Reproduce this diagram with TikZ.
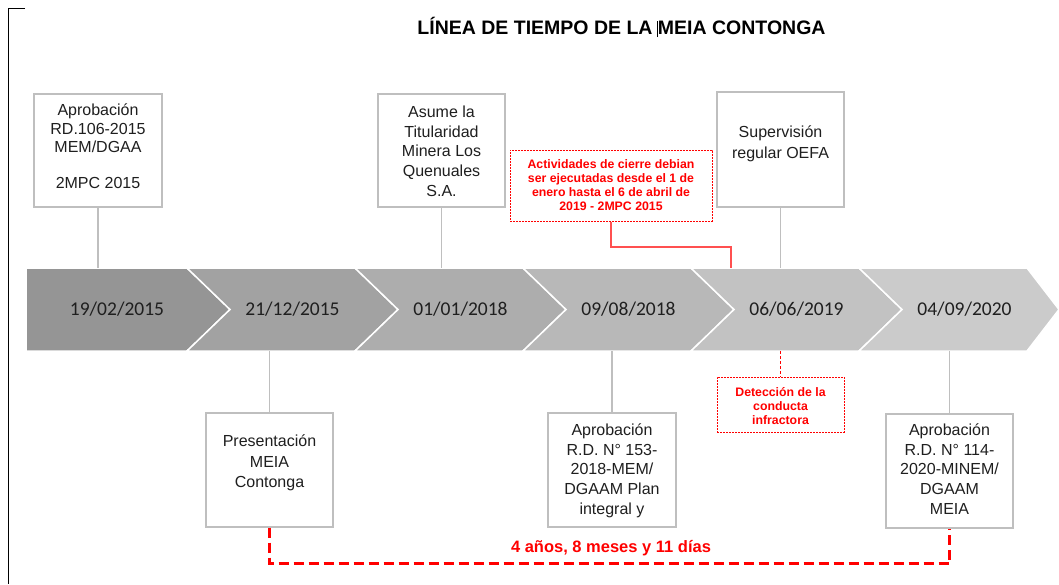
\documentclass[tikz,border=0pt]{standalone}
\usepackage{fontspec}
\setmainfont{Liberation Sans}
\newfontfamily\calfont{Carlito}
\definecolor{boxgray}{HTML}{BFBFBF}
\definecolor{txtdark}{HTML}{1F1F1F}
\definecolor{chA}{HTML}{959595}
\definecolor{chB}{HTML}{A2A2A2}
\definecolor{chC}{HTML}{ADADAD}
\definecolor{chD}{HTML}{B8B8B8}
\definecolor{chE}{HTML}{C2C2C2}
\definecolor{chF}{HTML}{CBCBCB}
\definecolor{redline}{HTML}{FF5050}
\newcommand{\wcursor}{\makebox[0pt][r]{\rule[-3pt]{0.8pt}{16pt}}}
\tikzset{
  chev/.style={draw=white, line width=1.5pt},
  datetxt/.style={font=\calfont\fontsize{19.5}{22}\selectfont, text=txtdark, anchor=base, inner sep=0pt},
  box/.style={draw=boxgray, line width=1.3pt, fill=white, inner sep=0pt},
  redbox/.style={draw=red, line width=1pt, dash pattern=on 2pt off 1pt, fill=white, inner sep=0pt},
  boxtxt/.style={font=\fontsize{16}{19.7}\selectfont, text=txtdark, align=center, inner sep=0pt},
  redtxt/.style={font=\bfseries\fontsize{12.3}{14}\selectfont, text=red, align=center, inner sep=0pt},
  conn/.style={draw=boxgray, line width=1.5pt},
  redconn/.style={draw=redline, line width=1.4pt},
  reddash/.style={draw=red, line width=1.2pt, dash pattern=on 3pt off 2pt},
  bracket/.style={draw=red, line width=2.6pt, dash pattern=on 10pt off 5pt}
}
\begin{document}
\begin{tikzpicture}[x=1pt,y=-1pt]
\useasboundingbox (0,0) rectangle (1059,584);
% frame corner
\draw[black, line width=1pt] (25,8) -- (8.5,8) -- (8.5,584);
% title
\node[font=\bfseries\fontsize{19.5}{23}\selectfont, text=black, inner sep=0pt, anchor=base] (title) at (621.5,34) {LÍNEA DE TIEMPO DE LA {\wcursor}MEIA CONTONGA};
% chevrons
\path[chev, fill=chA] (26,268) -- (187,268) -- (230,309.5) -- (187,351) -- (26,351) -- cycle;
\path[chev, fill=chB] (187,268) -- (355,268) -- (398,309.5) -- (355,351) -- (187,351) -- (230,309.5) -- cycle;
\path[chev, fill=chC] (355,268) -- (523,268) -- (566,309.5) -- (523,351) -- (355,351) -- (398,309.5) -- cycle;
\path[chev, fill=chD] (523,268) -- (691,268) -- (734,309.5) -- (691,351) -- (523,351) -- (566,309.5) -- cycle;
\path[chev, fill=chE] (691,268) -- (859,268) -- (902,309.5) -- (859,351) -- (691,351) -- (734,309.5) -- cycle;
\path[chev, fill=chF] (859,268) -- (1027,268) -- (1059,309.5) -- (1027,351) -- (859,351) -- (902,309.5) -- cycle;
% dates
\node[datetxt] (d1) at (117,315) {19/02/2015};
\node[datetxt] (d2) at (292.5,315) {21/12/2015};
\node[datetxt] (d3) at (460.5,315) {01/01/2018};
\node[datetxt] (d4) at (628.5,315) {09/08/2018};
\node[datetxt] (d5) at (796.5,315) {06/06/2019};
\node[datetxt] (d6) at (964.5,315) {04/09/2020};
% anchor points on the band
\coordinate (c1) at (98,268);
\coordinate (c2) at (441.5,268);
\coordinate (c5) at (780.5,268);
\coordinate (c5r) at (731,268);
\coordinate (c5b) at (780.5,351);
\coordinate (c2b) at (269.5,351);
\coordinate (c4b) at (612,351);
\coordinate (c6b) at (949.5,351);
\coordinate (rk) at (731,247);
% top boxes
\node[box, minimum width=128pt, minimum height=113pt] (b1) at (98,150.5) {};
\node[box, minimum width=127pt, minimum height=113pt] (b2) at (441.5,150.5) {};
\node[box, minimum width=127pt, minimum height=115pt] (b3) at (780.5,149.5) {};
\node[redbox, minimum width=202pt, minimum height=71pt] (ra) at (611,185.5) {};
% bottom boxes
\node[redbox, minimum width=127pt, minimum height=55pt] (rd) at (780.5,404.5) {};
\node[box, minimum width=127pt, minimum height=114pt] (p1) at (269.5,470) {};
\node[box, minimum width=128pt, minimum height=114pt] (p2) at (612,470) {};
\node[box, minimum width=127pt, minimum height=114pt] (p3) at (949.5,471) {};
% texts
\node[boxtxt, font=\fontsize{16}{18.3}\selectfont] (t1) at (98,146.5) {Aprobación\\RD.106-2015\\MEM/DGAA\\\mbox{}\\2MPC 2015};
\node[boxtxt] (t2) at (441.5,151) {Asume la\\Titularidad\\Minera Los\\Quenuales\\S.A.};
\node[boxtxt, font=\fontsize{16}{20.5}\selectfont] (t3) at (780.5,144) {Supervisión\\regular OEFA};
\node[redtxt] (ta) at (611,185) {Actividades de cierre debian\\ser ejecutadas desde el 1 de\\enero hasta el 6 de abril de\\2019 - 2MPC 2015};
\node[redtxt] (td) at (780.5,406) {Detección de la\\conducta\\infractora};
\node[boxtxt, font=\fontsize{16}{20.3}\selectfont] (tp1) at (269.5,463) {Presentación\\MEIA\\Contonga};
\node[boxtxt] (tp2) at (612,470.5) {Aprobación\\R.D. N° 153-\\2018-MEM/\\DGAAM Plan\\integral y};
\node[boxtxt] (tp3) at (949.5,469) {Aprobación\\R.D. N° 114-\\2020-MINEM/\\DGAAM\\MEIA};
% connectors
\draw[conn] (b1.south) -- (c1);
\draw[conn] (b2.south) -- (c2);
\draw[conn] (b3.south) -- (c5);
\draw[conn] (c2b) -- (p1.north);
\draw[conn] (c4b) -- (p2.north);
\draw[conn] (c6b) -- (p3.north);
\draw[redconn] (ra.south) |- (rk) -- (c5r);
\draw[reddash] (c5b) -- (rd.north);
% bracket
\draw[bracket] (p1.south) -- ++(0,36) -| (p3.south);
\node[font=\bfseries\fontsize{16.5}{20}\selectfont, text=red, inner sep=0pt] (lab) at (611,548) {4 años, 8 meses y 11 días};
\end{tikzpicture}
\end{document}
